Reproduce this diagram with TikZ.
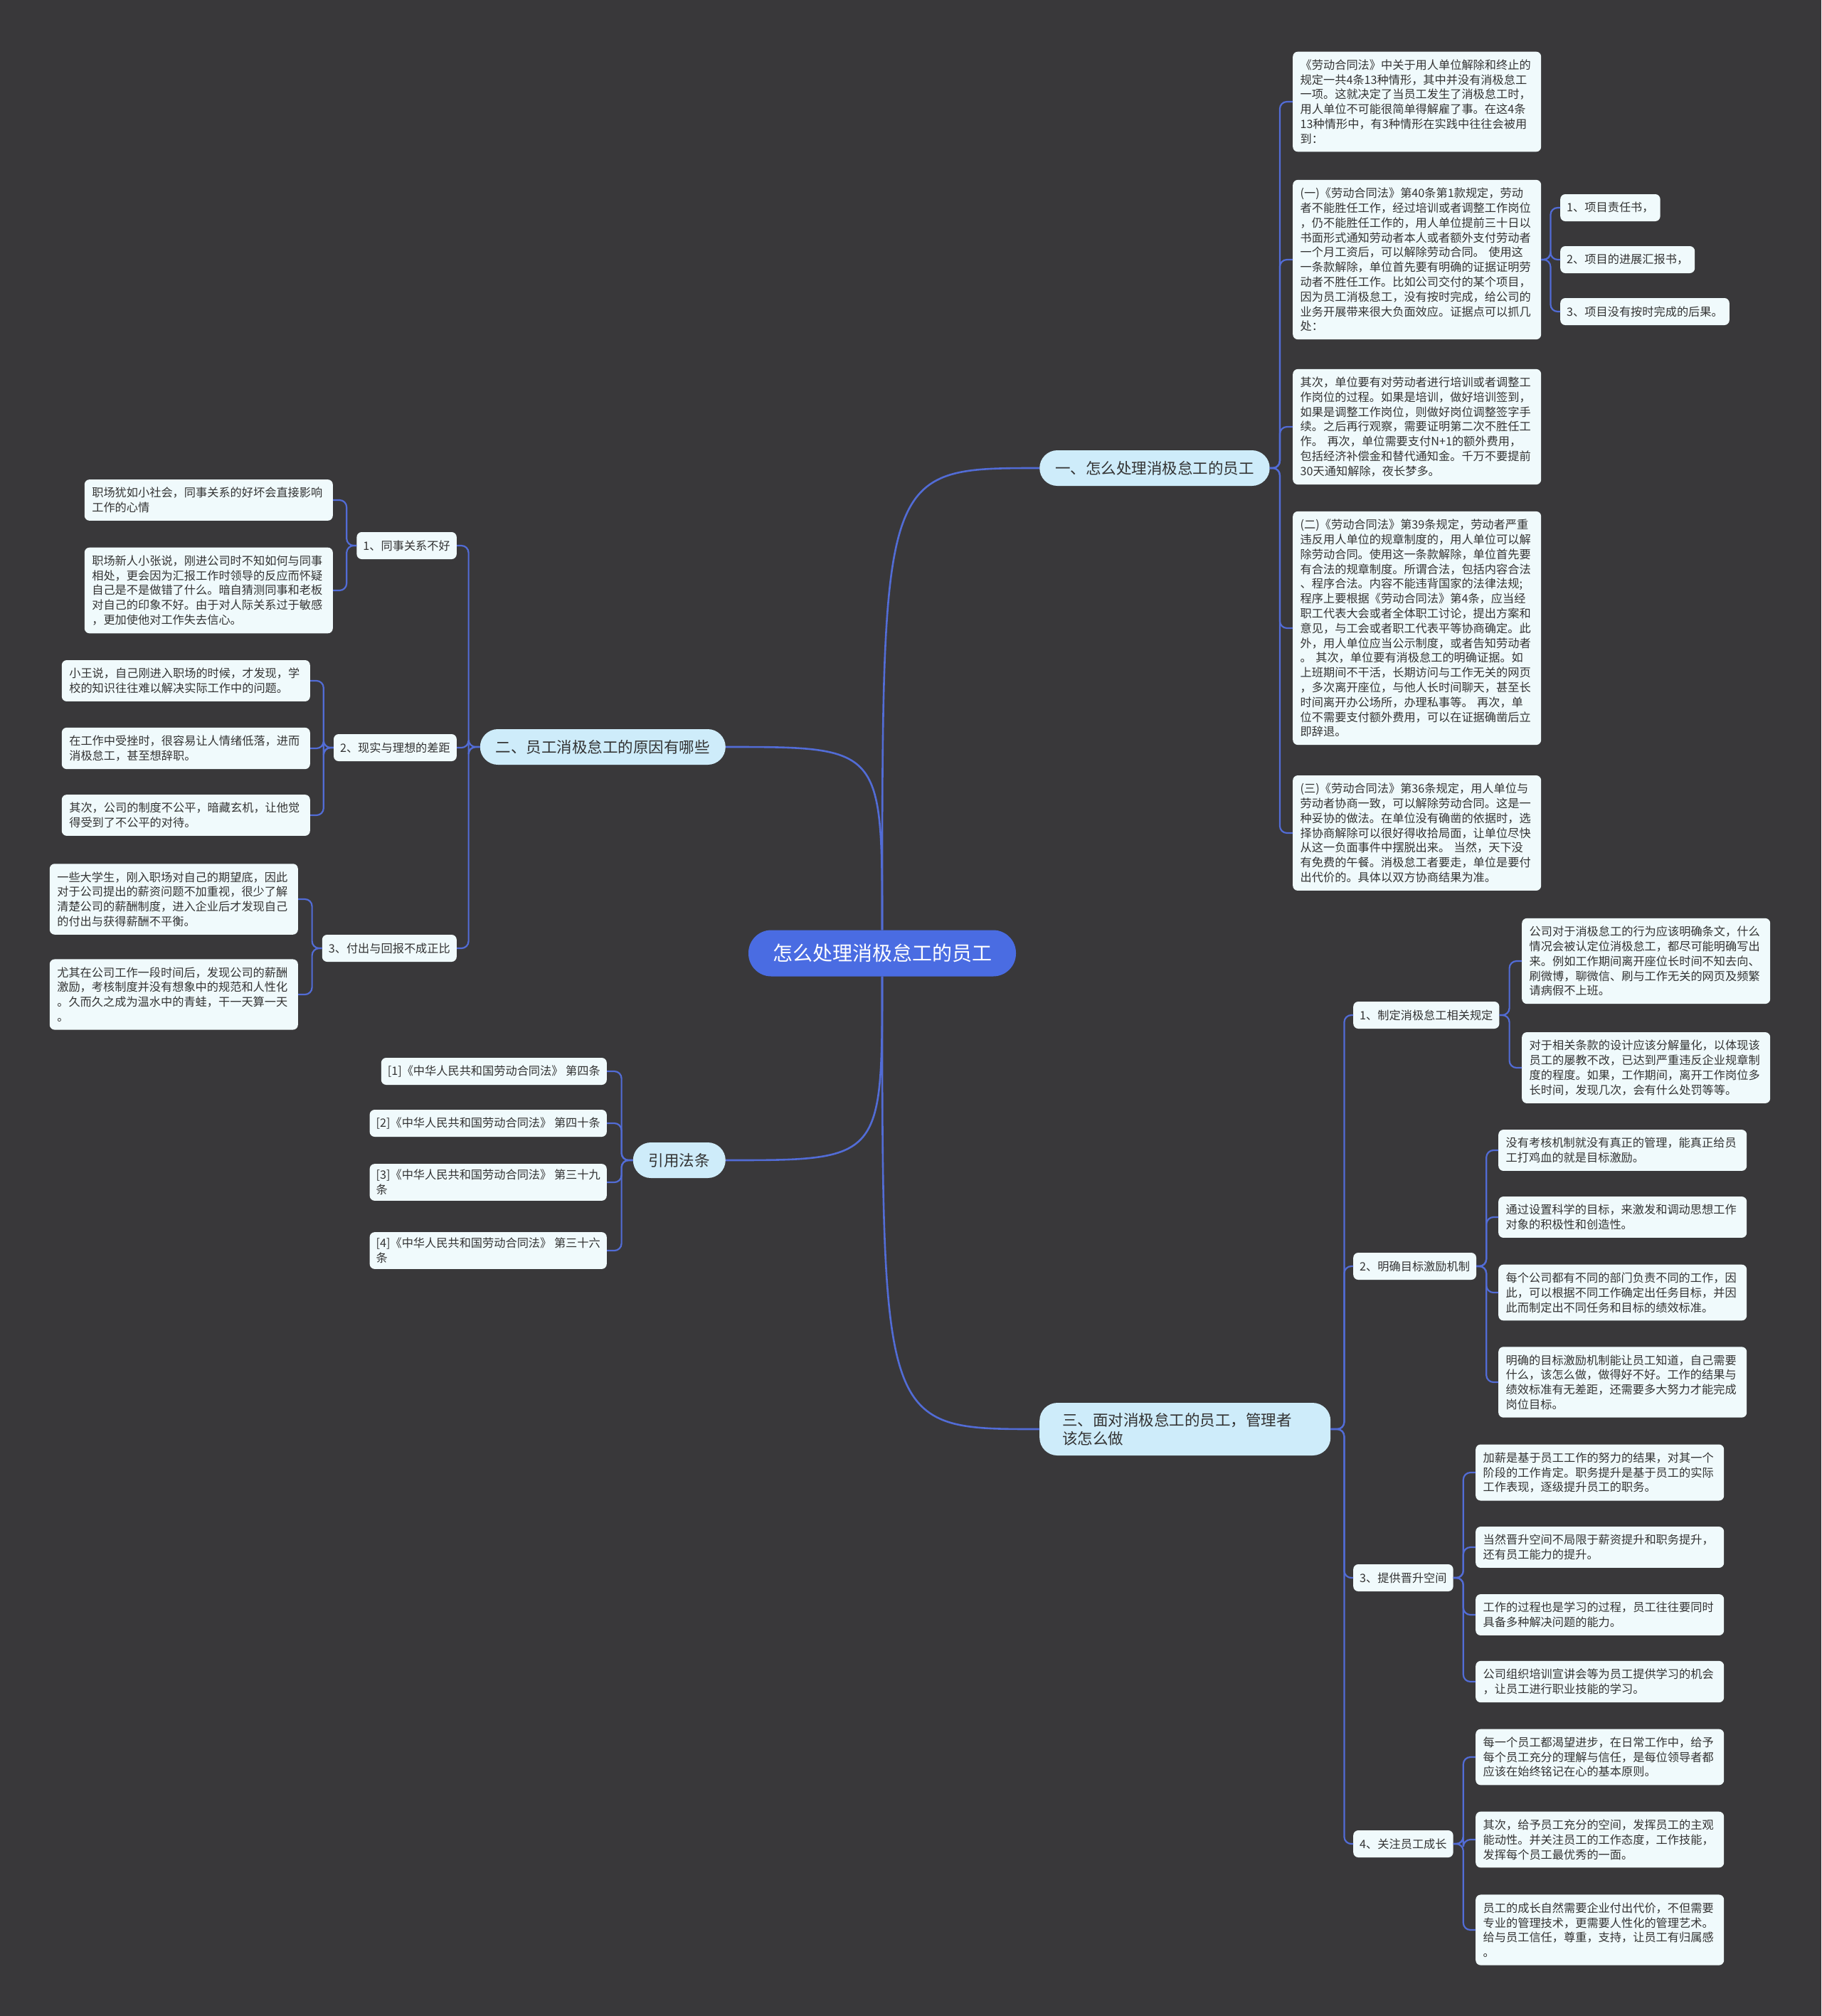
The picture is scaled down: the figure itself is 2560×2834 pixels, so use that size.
\documentclass[tikz,border=0pt]{standalone}
\usepackage{fontspec}
\usepackage{xcolor}
\newfontfamily\cjk{Noto Sans CJK SC}
\definecolor{bgdark}{RGB}{57,56,58}
\definecolor{rootblue}{RGB}{74,108,226}
\definecolor{topicblue}{RGB}{206,236,250}
\definecolor{boxwhite}{RGB}{240,250,252}
\definecolor{linkblue}{RGB}{82,108,214}
\definecolor{inkgray}{RGB}{51,51,51}
\tikzset{
  rootnode/.style={fill=rootblue, text=white, rounded corners=32pt, inner xsep=34pt, minimum height=65pt, font=\cjk\fontsize{28pt}{32pt}\selectfont},
  topicnode/.style={fill=topicblue, text=inkgray, rounded corners=25pt, inner xsep=22pt, inner ysep=12pt, minimum height=50pt, font=\cjk\fontsize{21.5pt}{26pt}\selectfont},
  subnode/.style={fill=boxwhite, text=inkgray, rounded corners=7pt, inner xsep=9pt, inner ysep=8pt, minimum height=38pt, align=left, font=\cjk\fontsize{16.2pt}{20.8pt}\selectfont},
  notebox/.style={subnode, text width=328pt, inner xsep=10.5pt, inner ysep=11pt, minimum height=0pt},
  trunkline/.style={draw=linkblue, line width=2.6pt},
  branchline/.style={draw=linkblue, line width=2.2pt, rounded corners=10pt}
}

\begin{document}
\begin{tikzpicture}[x=1pt,y=-1pt]
\fill[bgdark] (0,0) rectangle (2560,2834);
\useasboundingbox (0,0) rectangle (2560,2834);

\node[rootnode] (root) at (1240,1340) {怎么处理消极怠工的员工};
\node[topicnode,anchor=west] (t1) at (1461,658) {一、怎么处理消极怠工的员工};
\node[topicnode,anchor=east] (t2) at (1020,1050) {二、员工消极怠工的原因有哪些};
\node[topicnode,anchor=east] (t3) at (1020,1631) {引用法条};
\node[topicnode,anchor=west,text width=345pt,align=left,inner xsep=32pt,inner ysep=14pt] (t4) at (1461,2009) {三、面对消极怠工的员工，管理者\\该怎么做};

\node[notebox,anchor=west] (law1) at (1817,143) {《劳动合同法》中关于用人单位解除和终止的\\规定一共4条13种情形，其中并没有消极怠工\\一项。这就决定了当员工发生了消极怠工时，\\用人单位不可能很简单得解雇了事。在这4条\\13种情形中，有3种情形在实践中往往会被用\\到：};
\node[notebox,anchor=west] (law2) at (1817,365) {(一)《劳动合同法》第40条第1款规定，劳动\\者不能胜任工作，经过培训或者调整工作岗位\\，仍不能胜任工作的，用人单位提前三十日以\\书面形式通知劳动者本人或者额外支付劳动者\\一个月工资后，可以解除劳动合同。 使用这\\一条款解除，单位首先要有明确的证据证明劳\\动者不胜任工作。比如公司交付的某个项目，\\因为员工消极怠工，没有按时完成，给公司的\\业务开展带来很大负面效应。证据点可以抓几\\处：};
\node[notebox,anchor=west] (law3) at (1817,600) {其次，单位要有对劳动者进行培训或者调整工\\作岗位的过程。如果是培训，做好培训签到，\\如果是调整工作岗位，则做好岗位调整签字手\\续。之后再行观察，需要证明第二次不胜任工\\作。 再次，单位需要支付N+1的额外费用，\\包括经济补偿金和替代通知金。千万不要提前\\30天通知解除，夜长梦多。};
\node[notebox,anchor=west] (law4) at (1817,883) {(二)《劳动合同法》第39条规定，劳动者严重\\违反用人单位的规章制度的，用人单位可以解\\除劳动合同。使用这一条款解除，单位首先要\\有合法的规章制度。所谓合法，包括内容合法\\、程序合法。内容不能违背国家的法律法规;\\程序上要根据《劳动合同法》第4条，应当经\\职工代表大会或者全体职工讨论，提出方案和\\意见，与工会或者职工代表平等协商确定。此\\外，用人单位应当公示制度，或者告知劳动者\\。 其次，单位要有消极怠工的明确证据。如\\上班期间不干活，长期访问与工作无关的网页\\，多次离开座位，与他人长时间聊天，甚至长\\时间离开办公场所，办理私事等。 再次，单\\位不需要支付额外费用，可以在证据确凿后立\\即辞退。};
\node[notebox,anchor=west] (law5) at (1817,1171) {(三)《劳动合同法》第36条规定，用人单位与\\劳动者协商一致，可以解除劳动合同。这是一\\种妥协的做法。在单位没有确凿的依据时，选\\择协商解除可以很好得收拾局面，让单位尽快\\从这一负面事件中摆脱出来。 当然，天下没\\有免费的午餐。消极怠工者要走，单位是要付\\出代价的。具体以双方协商结果为准。};
\node[subnode,anchor=west] (proof1) at (2193,292) {1、项目责任书，};
\node[subnode,anchor=west] (proof2) at (2193,365) {2、项目的进展汇报书，};
\node[subnode,anchor=west] (proof3) at (2193,438) {3、项目没有按时完成的后果。};

\node[subnode,anchor=east] (cause1) at (642,767) {1、同事关系不好};
\node[subnode,anchor=east] (cause2) at (642,1051) {2、现实与理想的差距};
\node[subnode,anchor=east] (cause3) at (642,1333) {3、付出与回报不成正比};
\node[notebox,anchor=east] (cause1a) at (468,703) {职场犹如小社会，同事关系的好坏会直接影响\\工作的心情};
\node[notebox,anchor=east] (cause1b) at (468,830) {职场新人小张说，刚进公司时不知如何与同事\\相处，更会因为汇报工作时领导的反应而怀疑\\自己是不是做错了什么。暗自猜测同事和老板\\对自己的印象不好。由于对人际关系过于敏感\\，更加使他对工作失去信心。};
\node[notebox,anchor=east] (cause2a) at (436,957) {小王说，自己刚进入职场的时候，才发现，学\\校的知识往往难以解决实际工作中的问题。};
\node[notebox,anchor=east] (cause2b) at (436,1052) {在工作中受挫时，很容易让人情绪低落，进而\\消极怠工，甚至想辞职。};
\node[notebox,anchor=east] (cause2c) at (436,1146) {其次，公司的制度不公平，暗藏玄机，让他觉\\得受到了不公平的对待。};
\node[notebox,anchor=east] (cause3a) at (419,1264) {一些大学生，刚入职场对自己的期望底，因此\\对于公司提出的薪资问题不加重视，很少了解\\清楚公司的薪酬制度，进入企业后才发现自己\\的付出与获得薪酬不平衡。};
\node[notebox,anchor=east] (cause3b) at (419,1398) {尤其在公司工作一段时间后，发现公司的薪酬\\激励，考核制度并没有想象中的规范和人性化\\。久而久之成为温水中的青蛙，干一天算一天\\。};

\node[subnode,anchor=east] (ref1) at (853,1506) {[1]《中华人民共和国劳动合同法》 第四条};
\node[subnode,anchor=east] (ref2) at (853,1579) {[2]《中华人民共和国劳动合同法》 第四十条};
\node[subnode,anchor=east] (ref3) at (853,1662) {[3]《中华人民共和国劳动合同法》 第三十九\\条};
\node[subnode,anchor=east] (ref4) at (853,1758) {[4]《中华人民共和国劳动合同法》 第三十六\\条};

\node[subnode,anchor=west] (way1) at (1902,1427) {1、制定消极怠工相关规定};
\node[subnode,anchor=west] (way2) at (1902,1780) {2、明确目标激励机制};
\node[subnode,anchor=west] (way3) at (1902,2218) {3、提供晋升空间};
\node[subnode,anchor=west] (way4) at (1902,2592) {4、关注员工成长};
\node[notebox,anchor=west] (way1a) at (2139,1351) {公司对于消极怠工的行为应该明确条文，什么\\情况会被认定位消极怠工，都尽可能明确写出\\来。例如工作期间离开座位长时间不知去向、\\刷微博，聊微信、刷与工作无关的网页及频繁\\请病假不上班。};
\node[notebox,anchor=west] (way1b) at (2139,1501) {对于相关条款的设计应该分解量化，以体现该\\员工的屡教不改，已达到严重违反企业规章制\\度的程度。如果，工作期间，离开工作岗位多\\长时间，发现几次，会有什么处罚等等。};
\node[notebox,anchor=west] (way2a) at (2106,1617) {没有考核机制就没有真正的管理，能真正给员\\工打鸡血的就是目标激励。};
\node[notebox,anchor=west] (way2b) at (2106,1711) {通过设置科学的目标，来激发和调动思想工作\\对象的积极性和创造性。};
\node[notebox,anchor=west] (way2c) at (2106,1817) {每个公司都有不同的部门负责不同的工作，因\\此，可以根据不同工作确定出任务目标，并因\\此而制定出不同任务和目标的绩效标准。};
\node[notebox,anchor=west] (way2d) at (2106,1943) {明确的目标激励机制能让员工知道，自己需要\\什么，该怎么做，做得好不好。工作的结果与\\绩效标准有无差距，还需要多大努力才能完成\\岗位目标。};
\node[notebox,anchor=west] (way3a) at (2074,2070) {加薪是基于员工工作的努力的结果，对其一个\\阶段的工作肯定。职务提升是基于员工的实际\\工作表现，逐级提升员工的职务。};
\node[notebox,anchor=west] (way3b) at (2074,2175) {当然晋升空间不局限于薪资提升和职务提升，\\还有员工能力的提升。};
\node[notebox,anchor=west] (way3c) at (2074,2270) {工作的过程也是学习的过程，员工往往要同时\\具备多种解决问题的能力。};
\node[notebox,anchor=west] (way3d) at (2074,2364) {公司组织培训宣讲会等为员工提供学习的机会\\，让员工进行职业技能的学习。};
\node[notebox,anchor=west] (way4a) at (2074,2470) {每一个员工都渴望进步，在日常工作中，给予\\每个员工充分的理解与信任，是每位领导者都\\应该在始终铭记在心的基本原则。};
\node[notebox,anchor=west] (way4b) at (2074,2586) {其次，给予员工充分的空间，发挥员工的主观\\能动性。并关注员工的工作态度，工作技能，\\发挥每个员工最优秀的一面。};
\node[notebox,anchor=west] (way4c) at (2074,2713) {员工的成长自然需要企业付出代价，不但需要\\专业的管理技术，更需要人性化的管理艺术。\\给与员工信任，尊重，支持，让员工有归属感\\。};

\draw[trunkline] (root.north) .. controls (root.north |- t1.west) .. (t1.west);
\draw[trunkline] (root.north) .. controls (root.north |- t2.east) .. (t2.east);
\draw[trunkline] (root.south) .. controls (root.south |- t3.east) .. (t3.east);
\draw[trunkline] (root.south) .. controls (root.south |- t4.west) .. (t4.west);

\draw[branchline] (t1.east) -- ++(14,0) |- (law1.west);
\draw[branchline] (t1.east) -- ++(14,0) |- (law2.west);
\draw[branchline] (t1.east) -- ++(14,0) |- (law3.west);
\draw[branchline] (t1.east) -- ++(14,0) |- (law4.west);
\draw[branchline] (t1.east) -- ++(14,0) |- (law5.west);
\draw[branchline] (law2.east) -- ++(13,0) |- (proof1.west);
\draw[branchline] (law2.east) -- ++(13,0) |- (proof2.west);
\draw[branchline] (law2.east) -- ++(13,0) |- (proof3.west);

\draw[branchline] (t2.west) -- ++(-16,0) |- (cause1.east);
\draw[branchline] (t2.west) -- ++(-16,0) |- (cause2.east);
\draw[branchline] (t2.west) -- ++(-16,0) |- (cause3.east);
\draw[branchline] (cause1.west) -- ++(-14,0) |- (cause1a.east);
\draw[branchline] (cause1.west) -- ++(-14,0) |- (cause1b.east);
\draw[branchline] (cause2.west) -- ++(-14,0) |- (cause2a.east);
\draw[branchline] (cause2.west) -- ++(-14,0) |- (cause2b.east);
\draw[branchline] (cause2.west) -- ++(-14,0) |- (cause2c.east);
\draw[branchline] (cause3.west) -- ++(-14,0) |- (cause3a.east);
\draw[branchline] (cause3.west) -- ++(-14,0) |- (cause3b.east);

\draw[branchline] (t3.west) -- ++(-16,0) |- (ref1.east);
\draw[branchline] (t3.west) -- ++(-16,0) |- (ref2.east);
\draw[branchline] (t3.west) -- ++(-16,0) |- (ref3.east);
\draw[branchline] (t3.west) -- ++(-16,0) |- (ref4.east);

\draw[branchline] (t4.east) -- ++(19,0) |- (way1.west);
\draw[branchline] (t4.east) -- ++(19,0) |- (way2.west);
\draw[branchline] (t4.east) -- ++(19,0) |- (way3.west);
\draw[branchline] (t4.east) -- ++(19,0) |- (way4.west);
\draw[branchline] (way1.east) -- ++(14,0) |- (way1a.west);
\draw[branchline] (way1.east) -- ++(14,0) |- (way1b.west);
\draw[branchline] (way2.east) -- ++(14,0) |- (way2a.west);
\draw[branchline] (way2.east) -- ++(14,0) |- (way2b.west);
\draw[branchline] (way2.east) -- ++(14,0) |- (way2c.west);
\draw[branchline] (way2.east) -- ++(14,0) |- (way2d.west);
\draw[branchline] (way3.east) -- ++(14,0) |- (way3a.west);
\draw[branchline] (way3.east) -- ++(14,0) |- (way3b.west);
\draw[branchline] (way3.east) -- ++(14,0) |- (way3c.west);
\draw[branchline] (way3.east) -- ++(14,0) |- (way3d.west);
\draw[branchline] (way4.east) -- ++(14,0) |- (way4a.west);
\draw[branchline] (way4.east) -- ++(14,0) |- (way4b.west);
\draw[branchline] (way4.east) -- ++(14,0) |- (way4c.west);
\end{tikzpicture}
\end{document}
